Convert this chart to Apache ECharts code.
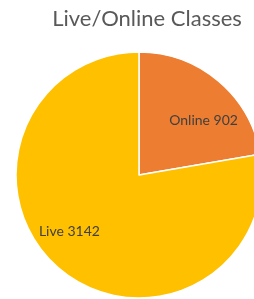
<!DOCTYPE html>
<html>
<head>
<meta charset="utf-8">
<script src="https://cdn.jsdelivr.net/npm/echarts@6/dist/echarts.min.js"></script>
<style>
  html, body { margin: 0; padding: 0; background: #fff; }
  #main { width: 254px; height: 299px; }
</style>
</head>
<body>
<div id="main"></div>
<script>
// chart data
var titleText = 'Live/Online Classes';
var categories = ['Online', 'Live'];
var values = [902, 3142];
var sliceColors = ['#ED7D31', '#FFC000'];
var labelOffsets = [[23, -5], [-28, 7]];

var chartDom = document.getElementById('main');
var myChart = echarts.init(chartDom, null, { renderer: 'canvas' });

var pieData = categories.map(function (name, i) {
    return {
        name: name,
        value: values[i],
        itemStyle: { color: sliceColors[i] },
        label: { offset: labelOffsets[i] }
    };
});

var option = {
    animation: false,
    title: {
        text: titleText,
        left: 142,
        top: 3,
        textAlign: 'center',
        textStyle: {
            fontFamily: 'Lato',
            fontSize: 22,
            fontWeight: 'normal',
            color: '#595959'
        }
    },
    series: [
        {
            type: 'pie',
            center: [139, 175],
            radius: 123,
            startAngle: 90,
            clockwise: true,
            data: pieData,
            itemStyle: {
                borderColor: '#ffffff',
                borderWidth: 1.5
            },
            label: {
                position: 'inside',
                formatter: '{b} {c}',
                fontFamily: 'Lato',
                fontSize: 14,
                color: '#404040'
            },
            labelLine: { show: false },
            emphasis: { disabled: true }
        }
    ]
};
myChart.setOption(option);
</script>
</body>
</html>
